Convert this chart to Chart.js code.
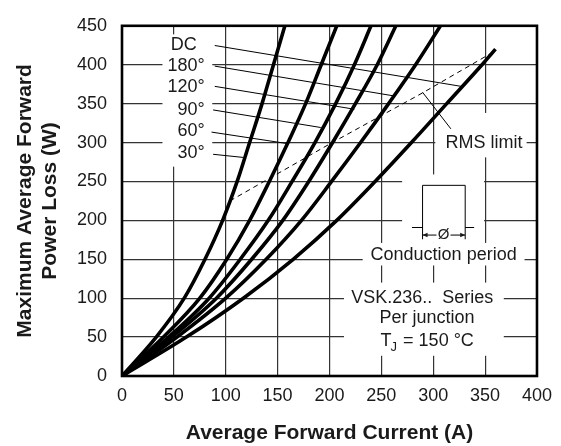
<!DOCTYPE html>
<html>
<head>
<meta charset="utf-8">
<script src="https://cdn.jsdelivr.net/npm/chart.js@4.4.0/dist/chart.umd.min.js"></script>
<style>
  html, body { margin: 0; padding: 0; background: #fff; }
</style>
</head>
<body>
<canvas id="myChart" width="561" height="446"></canvas>
<script>
// power loss levels (W) where the curves were read
const powerSteps = [0, 50, 100, 150, 200, 250, 300, 350, 400, 450];
const dcPowerSteps = [0, 50, 100, 150, 200, 250, 300, 350, 400, 420];

// average forward current (A) for each conduction angle at those levels
const current30 = [0, 33, 60, 80, 97, 111, 123, 135, 146, 157];
const current60 = [0, 40, 75, 101, 123, 142, 160, 177, 192, 207];
const current90 = [0, 45, 84, 114, 141, 164, 186, 206, 224, 240];
const current120 = [0, 48, 91, 125, 155, 180, 203, 225, 246, 264];
const current180 = [0, 53, 100, 139, 173, 202, 230, 257, 283, 307];
const currentDC = [0, 62, 117, 165, 207, 244, 279, 313, 347, 360];

// RMS limit (dashed)
const rmsCurrent = [104, 200, 290, 360];
const rmsPower = [225, 298, 364, 418];

const curveNames = ['30°', '60°', '90°', '120°', '180°', 'DC'];
const xTicks = [0, 50, 100, 150, 200, 250, 300, 350, 400];
const yTicks = [0, 50, 100, 150, 200, 250, 300, 350, 400, 450];

const FONT = "'Liberation Sans', Arial, Helvetica, sans-serif";

function toPoints(xs, ys) {
    return xs.map((v, i) => ({ x: v, y: ys[i] }));
}

const curveSets = [current30, current60, current90, current120, current180, currentDC];
const datasets = curveSets.map((c, i) => ({
    label: curveNames[i],
    data: toPoints(c, i === 5 ? dcPowerSteps : powerSteps),
    showLine: true,
    borderColor: '#000',
    borderWidth: 3.6,
    pointRadius: 0,
    cubicInterpolationMode: 'monotone'
}));
datasets.unshift({
    label: 'RMS limit',
    data: toPoints(rmsCurrent, rmsPower),
    showLine: true,
    borderColor: '#000',
    borderWidth: 1,
    borderDash: [5, 4],
    pointRadius: 0,
    tension: 0
});

// annotation layout, in axis units
const patches = [
    [39, 439, 87, 269],
    [302, 338, 390, 281],
    [270, 259, 349, 171],
    [232, 171, 388, 142],
    [214, 120, 368, 26]
];
const labelSpots = [
    { x: 79.8, y: 286.9 },
    { x: 79.8, y: 314.2 },
    { x: 79.8, y: 341.9 },
    { x: 79.8, y: 370.9 },
    { x: 79.8, y: 398.2 },
    { x: 72.1, y: 424.7 }
];
const leaders = [
    [87.8, 284.9, 116.6, 280.9],
    [86.3, 313.4, 159.1, 298.7],
    [87.8, 341.9, 191.6, 319.3],
    [89.4, 372.2, 224, 342.8],
    [89.4, 398.2, 262.5, 359.8],
    [89.4, 424.7, 326.9, 372.2],
    [289.7, 364.6, 317, 317.6]
];

const notes = {
    id: 'notes',
    beforeDatasetsDraw(chart) {
        const ctx = chart.ctx;
        const X = v => chart.scales.x.getPixelForValue(v);
        const Y = v => chart.scales.y.getPixelForValue(v);
        ctx.save();
        ctx.fillStyle = '#fff';
        for (const p of patches) {
            ctx.fillRect(X(p[0]), Y(p[1]), X(p[2]) - X(p[0]), Y(p[3]) - Y(p[1]));
        }
        const a = chart.chartArea;
        ctx.strokeStyle = '#000';
        ctx.lineWidth = 2.6;
        ctx.strokeRect(a.left, a.top, a.right - a.left, a.bottom - a.top);
        ctx.restore();
    },
    afterDatasetsDraw(chart) {
        const ctx = chart.ctx;
        const X = v => chart.scales.x.getPixelForValue(v);
        const Y = v => chart.scales.y.getPixelForValue(v);
        ctx.save();
        ctx.strokeStyle = '#000';
        ctx.fillStyle = '#1a1a1a';
        ctx.lineWidth = 1;
        for (const l of leaders) {
            ctx.beginPath();
            ctx.moveTo(X(l[0]), Y(l[1]));
            ctx.lineTo(X(l[2]), Y(l[3]));
            ctx.stroke();
        }
        ctx.font = '18px ' + FONT;
        ctx.textBaseline = 'middle';
        ctx.textAlign = 'right';
        curveNames.forEach((n, i) => ctx.fillText(n, X(labelSpots[i].x), Y(labelSpots[i].y)));

        ctx.textAlign = 'center';
        ctx.fillText('RMS limit', X(349), Y(299));
        ctx.fillText('Conduction period', X(310), Y(156));
        ctx.fillText('VSK.236..  Series', X(289.4), Y(100.5));
        ctx.fillText('Per junction', X(294), Y(74));

        // T_J = 150 °C
        const small = '13px ' + FONT;
        const big = '18px ' + FONT;
        ctx.font = big;
        const wT = ctx.measureText('T').width;
        const wRest = ctx.measureText(' = 150 °C').width;
        ctx.font = small;
        const wJ = ctx.measureText('J').width;
        let sx = X(294.2) - (wT + wJ + wRest) / 2;
        const ty = Y(44.7);
        ctx.textAlign = 'left';
        ctx.font = big;
        ctx.fillText('T', sx, ty);
        ctx.font = small;
        ctx.fillText('J', sx + wT - 1, ty + 6);
        ctx.font = big;
        ctx.fillText(' = 150 °C', sx + wT + wJ, ty);

        // conduction pulse symbol
        const base = Y(190.8), top = Y(245), low = Y(175.7), ay = Y(181.1);
        const x0 = X(279.5), x1 = X(289.7), x2 = X(330.8), x3 = X(339.4);
        ctx.beginPath();
        ctx.moveTo(x0, base); ctx.lineTo(x1, base);
        ctx.moveTo(x1, low); ctx.lineTo(x1, top); ctx.lineTo(x2, top); ctx.lineTo(x2, low);
        ctx.moveTo(x2, base); ctx.lineTo(x3, base);
        ctx.stroke();
        const cx = X(309.9);
        ctx.beginPath();
        ctx.moveTo(x1, ay); ctx.lineTo(cx - 7, ay);
        ctx.moveTo(cx + 7, ay); ctx.lineTo(x2, ay);
        ctx.stroke();
        ctx.beginPath();
        ctx.moveTo(x1, ay); ctx.lineTo(x1 + 5, ay - 2.2); ctx.lineTo(x1 + 5, ay + 2.2); ctx.closePath();
        ctx.moveTo(x2, ay); ctx.lineTo(x2 - 5, ay - 2.2); ctx.lineTo(x2 - 5, ay + 2.2); ctx.closePath();
        ctx.fill();
        ctx.font = '15px ' + FONT;
        ctx.textAlign = 'center';
        ctx.fillText('Ø', cx, ay);
        ctx.restore();
    }
};

const ctx = document.getElementById('myChart').getContext('2d');
const myChart = new Chart(ctx, {
    type: 'scatter',
    data: { datasets: datasets },
    options: {
        responsive: false,
        animation: false,
        layout: { padding: { top: 18, right: 23, bottom: 0, left: 0 } },
        plugins: { legend: { display: false }, tooltip: { enabled: false } },
        scales: {
            x: {
                type: 'linear',
                min: 0,
                max: 400,
                afterBuildTicks: s => { s.ticks = xTicks.map(v => ({ value: v })); },
                afterFit: s => { s.height = 70; },
                grid: { color: '#333', lineWidth: 1.2, drawTicks: false },
                border: { display: false },
                ticks: { padding: 9, maxRotation: 0, color: '#1a1a1a', font: { family: FONT, size: 18 } },
                title: {
                    display: true,
                    text: 'Average Forward Current (A)',
                    color: '#1a1a1a',
                    font: { family: FONT, size: 21, weight: 'bold' },
                    padding: { top: 0, bottom: 0 }
                }
            },
            y: {
                type: 'linear',
                min: 0,
                max: 450,
                afterBuildTicks: s => { s.ticks = yTicks.map(v => ({ value: v })); },
                afterFit: s => { s.width = 122; },
                grid: { color: '#333', lineWidth: 1.2, drawTicks: false },
                border: { display: false },
                ticks: { padding: 15, color: '#1a1a1a', font: { family: FONT, size: 18 } },
                title: {
                    display: true,
                    text: ['Maximum Average Forward', 'Power Loss (W)'],
                    color: '#1a1a1a',
                    font: { family: FONT, size: 21, weight: 'bold', lineHeight: 1.2 },
                    padding: { top: 12.4, bottom: 0 }
                }
            }
        }
    },
    plugins: [notes]
});
</script>
</body>
</html>
